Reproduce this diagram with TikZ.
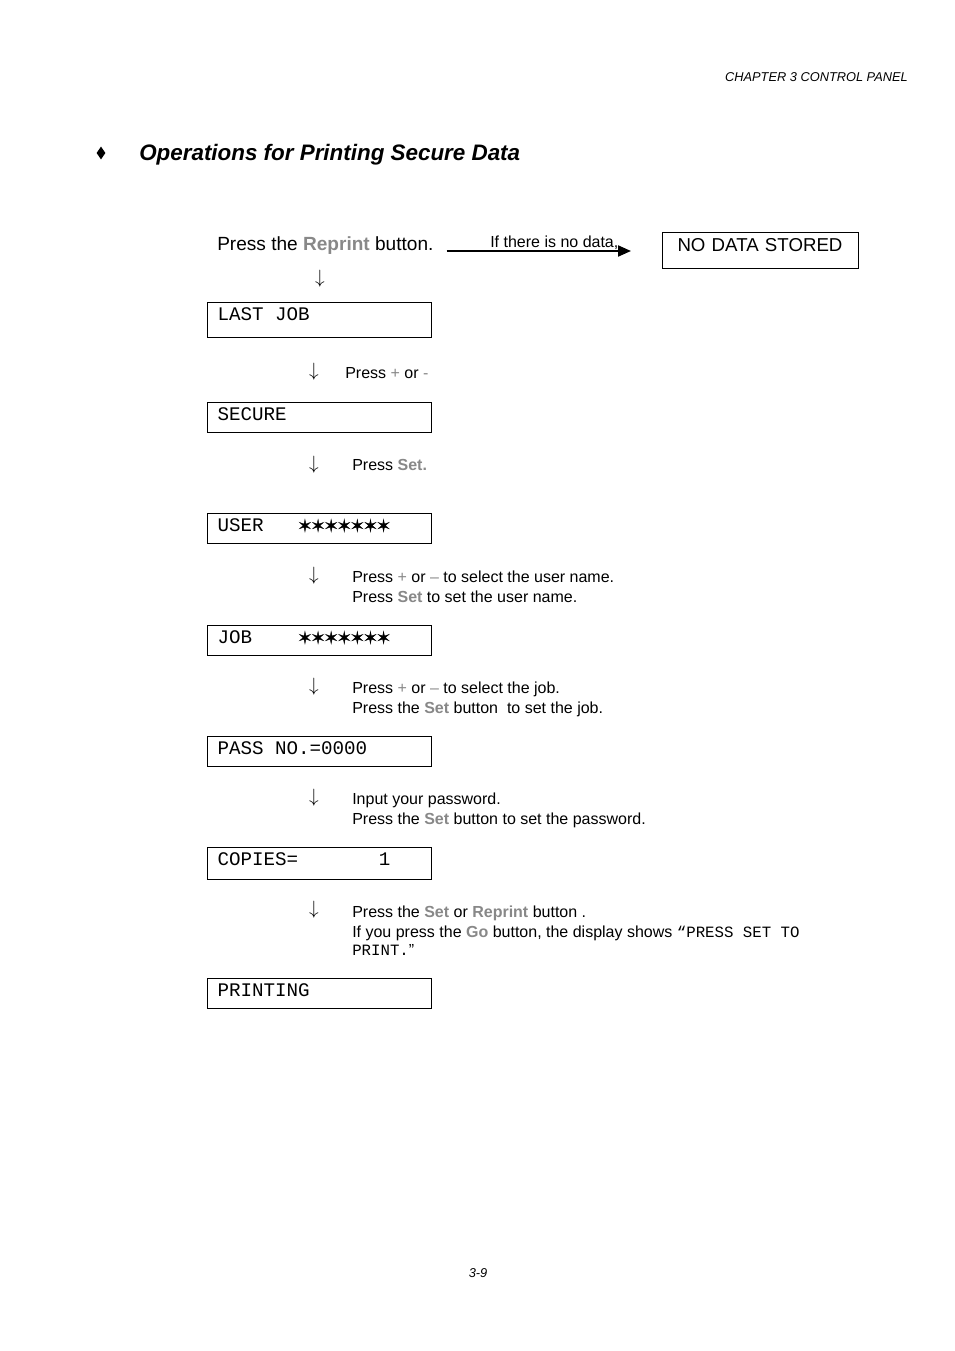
\documentclass[tikz,border=0pt]{standalone}
\usepackage{fontspec}
\setmainfont{Liberation Sans}
\newfontfamily\lcdfont{Liberation Mono}
\newfontface\symfont[FakeBold=2.5]{DejaVu Sans}
\usetikzlibrary{arrows.meta,shapes.geometric}
\definecolor{gtxt}{RGB}{136,136,136}
\newcommand\gb[1]{\textcolor{gtxt}{\textbf{#1}}}
\newcommand\gr[1]{\textcolor{gtxt}{#1}}
\newcommand\ms{\hspace*{0.6em}}
\newcommand\starrow{{\symfont\fontsize{12.2pt}{12pt}\selectfont ✶\kern-0.4pt✶\kern-0.4pt✶\kern-0.4pt✶\kern-0.4pt✶\kern-0.4pt✶\kern-0.4pt✶}}
\newcommand\mt[1]{{\lcdfont\fontsize{11.8pt}{15pt}\selectfont #1}}
\begin{document}
\begin{tikzpicture}[x=0.75pt,y=-0.75pt,
  lcd/.style={draw, line width=0.75pt, anchor=north west, inner xsep=7.5pt, inner ysep=3pt,
    text width=153pt, align=left, text height=10.5pt, text depth=6pt,
    font=\lcdfont\fontsize{14.4pt}{16pt}\selectfont},
  sidetxt/.style={anchor=north west, inner sep=0pt, align=left, font=\fontsize{12pt}{15pt}\selectfont},
  dnarrow/.style={anchor=south, inner sep=0pt, font=\fontsize{15.5pt}{18pt}\selectfont},
  plain/.style={inner sep=0pt}
]
\useasboundingbox (0,0) rectangle (954,1351);

% header / footer
\node[plain, anchor=base east, font=\fontsize{9.6pt}{11pt}\selectfont\itshape] (chap) at (908,81.5) {CHAPTER 3 CONTROL PANEL};
\node[plain, anchor=base, font=\fontsize{9.6pt}{11pt}\selectfont\itshape] (page) at (478,1277) {3-9};

% heading
\node[diamond, fill, inner sep=0pt, minimum width=6.75pt, minimum height=9.75pt] (bul) at (101,153) {};
\node[plain, anchor=base west, font=\fontsize{16.8pt}{20pt}\selectfont\bfseries\itshape] (title) at (139,161) {Operations for Printing Secure Data};

% first line
\node[plain, anchor=base west, font=\fontsize{14.3pt}{17pt}\selectfont] (press) at (217,251) {Press the \gb{Reprint} button.};
\node[draw, line width=0.75pt, anchor=north west, inner xsep=11.25pt, inner ysep=3pt, text width=124.5pt, align=left,
      text height=11.25pt, text depth=9.75pt, font=\fontsize{14pt}{17pt}\selectfont] (nodata) at (662,232) {NO DATA STORED};
\draw[line width=1.5pt, -{Triangle[length=9.75pt,width=8.25pt]}, shorten <=9.75pt, shorten >=23.25pt]
  (press.base east) -- (press.base east -| nodata.west);
\node[plain, anchor=base west, font=\fontsize{12pt}{15pt}\selectfont] (nodatalbl) at (490,248) {If there is no data,};

% display boxes
\node[lcd, text depth=9.75pt] (lastjob) at (207,302) {LAST\ms JOB};
\node[lcd] (secure) at (207,402) {SECURE};
\node[lcd] (user) at (207,513) {USER\ms\ms\ms\starrow};
\node[lcd] (job) at (207,625) {JOB\ms\ms\ms\ms\starrow};
\node[lcd] (pass) at (207,736) {PASS\ms NO.=0000};
\node[lcd, text depth=7.5pt] (copies) at (207,847) {COPIES=\ms\ms\ms\ms\ms\ms\ms 1};
\node[lcd] (printing) at (207,978) {PRINTING};

% arrows
\node[dnarrow] (a0) at (320,288) {$\downarrow$};
\node[dnarrow] (a1) at (314,381) {$\downarrow$};
\node[dnarrow] (a2) at (314,473) {$\downarrow$};
\node[dnarrow] (a3) at (314,584) {$\downarrow$};
\node[dnarrow] (a4) at (314,695) {$\downarrow$};
\node[dnarrow] (a5) at (314,806) {$\downarrow$};
\node[dnarrow] (a6) at (314,918) {$\downarrow$};

% side texts
\node[sidetxt] (t1) at (345,367.5) {Press \gr{+} or \gr{-}};
\node[sidetxt] (t2) at (352,459.5) {Press \gb{Set.}};
\node[sidetxt] (t3) at (352,570.5) {Press \gr{+} or \gr{--} to select the user name.\\Press \gb{Set} to set the user name.};
\node[sidetxt] (t4) at (352,681.5) {Press \gr{+} or \gr{--} to select the job.\\Press the \gb{Set} button\ \ to set the job.};
\node[sidetxt] (t5) at (352,792.5) {Input your password.\\Press the \gb{Set} button to set the password.};
\node[sidetxt] (t6) at (352,905.5) {Press the \gb{Set} or \gb{Reprint} button .\\If you press the \gb{Go} button, the display shows \mt{“PRESS\ms SET\ms TO}\\[-1.5pt]\mt{PRINT.}”};
\end{tikzpicture}
\end{document}
